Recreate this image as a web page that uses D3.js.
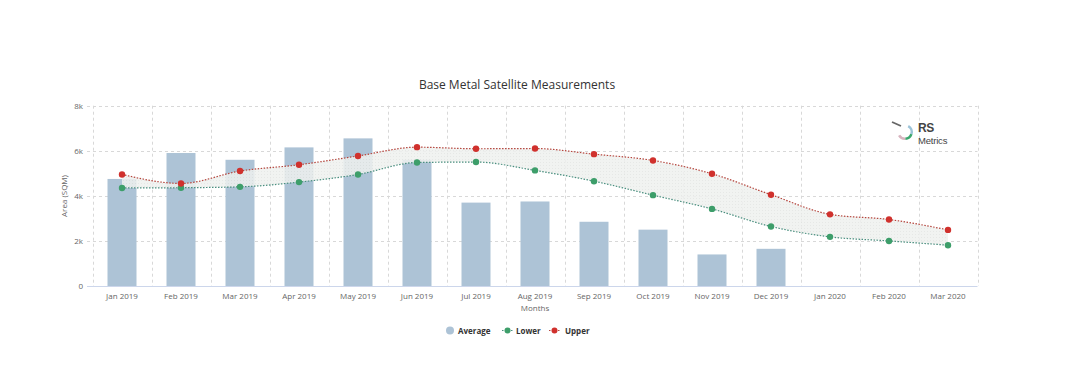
<!DOCTYPE html>
<html><head><meta charset="utf-8">
<script src="https://cdn.jsdelivr.net/npm/d3@7"></script>
<style>
html,body{margin:0;padding:0;background:#fff;}
svg{display:block;font-family:"Open Sans","Lato",sans-serif;}
</style></head>
<body>
<svg id="chart" width="1071" height="378"></svg>
<script>
const categories = ["Jan 2019","Feb 2019","Mar 2019","Apr 2019","May 2019","Jun 2019","Jul 2019","Aug 2019","Sep 2019","Oct 2019","Nov 2019","Dec 2019","Jan 2020","Feb 2020","Mar 2020"];
const average = [4750,5900,5600,6150,6550,5600,3700,3750,2850,2500,1400,1650,null,null,null];
const lower = [4350,4360,4400,4610,4950,5480,5500,5130,4650,4030,3420,2640,2180,2000,1810];
const upper = [4950,4550,5100,5380,5770,6160,6090,6100,5850,5570,4980,4050,3180,2950,2490];
const yTicks = [0,2000,4000,6000,8000];
const yTickLabels = ["0","2k","4k","6k","8k"];

(function(){
const svg = d3.select("#chart");
const pL = 92.5, pR = 977.5, pT = 105.7, pB = 286;

const x = d3.scaleBand().domain(categories).range([pL,pR]).paddingInner(0).paddingOuter(0);
const y = d3.scaleLinear().domain([0,8000]).range([pB,pT]);

const defs = svg.append("defs");
const pat = defs.append("pattern").attr("id","dots").attr("width",3).attr("height",3).attr("patternUnits","userSpaceOnUse");
pat.append("rect").attr("width",3).attr("height",3).attr("fill","#eff1ef");
pat.append("rect").attr("width",1).attr("height",1).attr("fill","#e1e4e1");

svg.append("g").selectAll("line").data(yTicks).join("line")
  .attr("x1",87).attr("x2",pR)
  .attr("y1",d=>Math.round(y(d))+0.5).attr("y2",d=>Math.round(y(d))+0.5)
  .attr("stroke",d=>d===0?"#ccd6eb":"#d8d8d8").attr("stroke-width",1)
  .attr("stroke-dasharray",d=>d===0?null:"3,3");

const bounds = categories.map(c=>x(c)).concat([pR]);
svg.append("g").selectAll("line").data(bounds).join("line")
  .attr("x1",d=>Math.round(d)+0.5).attr("x2",d=>Math.round(d)+0.5)
  .attr("y1",pT).attr("y2",pB)
  .attr("stroke","#d8d8d8").attr("stroke-dasharray","3,3");

svg.append("g").selectAll("text").data(yTicks).join("text")
  .attr("x",83).attr("y",d=>y(d)+3)
  .attr("text-anchor","end").attr("font-size",8).attr("fill","#666")
  .text((d,i)=>yTickLabels[i]);

svg.append("g").selectAll("text").data(categories).join("text")
  .attr("x",d=>x(d)+x.bandwidth()/2).attr("y",299)
  .attr("text-anchor","middle").attr("font-size",8).attr("fill","#666")
  .text(d=>d);

const bw = 29;
svg.append("g").selectAll("rect").data(categories.map((c,i)=>({c,v:average[i]})).filter(d=>d.v!=null)).join("rect")
  .attr("x",d=>x(d.c)+x.bandwidth()/2-bw/2).attr("width",bw)
  .attr("y",d=>y(d.v)).attr("height",d=>y(0)-y(d.v))
  .attr("fill","#adc3d6");

const cx = d=>x(d)+x.bandwidth()/2;
const curve = d3.curveMonotoneX;

const rangeData = categories.map((c,i)=>({c,lo:lower[i],hi:upper[i]}));
svg.append("path").datum(rangeData)
  .attr("d",d3.area().x(d=>cx(d.c)).y0(d=>y(d.lo)).y1(d=>y(d.hi)).curve(curve))
  .attr("fill","url(#dots)").attr("opacity",0.85);

function lineSeries(vals,color,mcolor){
  const data = categories.map((c,i)=>({c,v:vals[i]}));
  svg.append("path").datum(data)
    .attr("d",d3.line().x(d=>cx(d.c)).y(d=>y(d.v)).curve(curve))
    .attr("fill","none").attr("stroke",color).attr("stroke-width",1.2).attr("stroke-dasharray","1.5,1.5");
  svg.append("g").selectAll("circle").data(data).join("circle")
    .attr("cx",d=>cx(d.c)).attr("cy",d=>y(d.v)).attr("r",3.2).attr("fill",mcolor);
}
lineSeries(lower,"#4a8f7f","#3d9e6a");
lineSeries(upper,"#b5463e","#d0312d");

svg.append("text").attr("x",517).attr("y",89).attr("text-anchor","middle")
  .attr("font-size",12).attr("fill","#333").text("Base Metal Satellite Measurements");

svg.append("text").attr("transform","translate(67,196) rotate(-90)").attr("text-anchor","middle")
  .attr("font-size",8).attr("fill","#666").text("Area (SQM)");
svg.append("text").attr("x",535).attr("y",311).attr("text-anchor","middle")
  .attr("font-size",8).attr("fill","#666").text("Months");

const lg = svg.append("g").attr("font-size",8).attr("font-weight","bold").attr("fill","#333");
lg.append("circle").attr("cx",450).attr("cy",330.5).attr("r",4).attr("fill","#adc3d6");
lg.append("text").attr("x",458).attr("y",333.5).text("Average");
lg.append("line").attr("x1",502).attr("x2",513).attr("y1",330.5).attr("y2",330.5).attr("stroke","#4a8f7f").attr("stroke-dasharray","1.5,1.5");
lg.append("circle").attr("cx",507.5).attr("cy",330.5).attr("r",3).attr("fill","#3d9e6a");
lg.append("text").attr("x",516).attr("y",333.5).text("Lower");
lg.append("line").attr("x1",549).attr("x2",560).attr("y1",330.5).attr("y2",330.5).attr("stroke","#b5463e").attr("stroke-dasharray","1.5,1.5");
lg.append("circle").attr("cx",554.5).attr("cy",330.5).attr("r",3).attr("fill","#d0312d");
lg.append("text").attr("x",565).attr("y",333.5).text("Upper");

const logo = svg.append("g");
const arc = d3.arc().innerRadius(5.5).outerRadius(8);
const lc = "translate(905,132)";
logo.append("path").attr("transform",lc).attr("d",arc({startAngle:0.5,endAngle:1.9})).attr("fill","#9cc3d8");
logo.append("path").attr("transform",lc).attr("d",arc({startAngle:1.9,endAngle:3.1})).attr("fill","#3aa76d");
logo.append("path").attr("transform",lc).attr("d",arc({startAngle:3.1,endAngle:4.2})).attr("fill","#d7b4bf");
logo.append("line").attr("x1",892).attr("y1",122).attr("x2",901).attr("y2",126).attr("stroke","#666").attr("stroke-width",1.8);
logo.append("text").attr("x",918).attr("y",131.5).attr("font-family","'Liberation Sans',Arial,sans-serif")
  .attr("font-size",12).attr("font-weight","bold").attr("fill","#444").attr("letter-spacing",-0.3).text("RS");
logo.append("text").attr("x",918).attr("y",143.5).attr("font-family","'Liberation Sans',Arial,sans-serif")
  .attr("font-size",9.5).attr("fill","#444").attr("letter-spacing",-0.2).text("Metrics");
})();
</script>
</body></html>
